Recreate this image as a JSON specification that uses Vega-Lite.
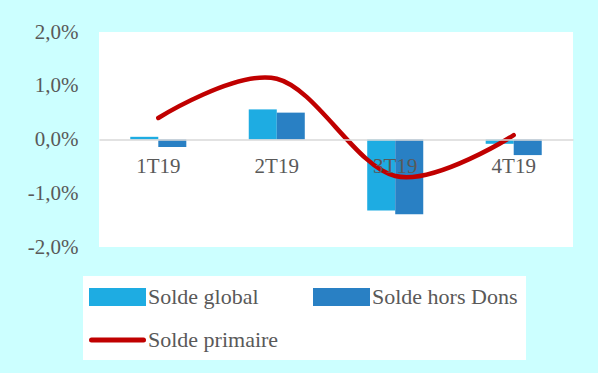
{
  "$schema": "https://vega.github.io/schema/vega-lite/v6.json",
  "width": 474,
  "height": 215,
  "autosize": {"type": "none"},
  "padding": {"left": 99, "top": 32, "right": 25, "bottom": 126},
  "background": "#ccffff",
  "config": {"view": {"fill": "white", "stroke": null}, "font": "Liberation Serif"},
  "data": {
    "values": [
      {"q": "1T19", "series": "Solde global", "v": 0.05},
      {"q": "1T19", "series": "Solde hors Dons", "v": -0.14},
      {"q": "1T19", "series": "Solde primaire", "v": 0.40},
      {"q": "2T19", "series": "Solde global", "v": 0.56},
      {"q": "2T19", "series": "Solde hors Dons", "v": 0.50},
      {"q": "2T19", "series": "Solde primaire", "v": 1.13},
      {"q": "3T19", "series": "Solde global", "v": -1.32},
      {"q": "3T19", "series": "Solde hors Dons", "v": -1.39},
      {"q": "3T19", "series": "Solde primaire", "v": -0.68},
      {"q": "4T19", "series": "Solde global", "v": -0.08},
      {"q": "4T19", "series": "Solde hors Dons", "v": -0.29},
      {"q": "4T19", "series": "Solde primaire", "v": 0.08}
    ]
  },
  "encoding": {
    "x": {
      "field": "q", "type": "nominal",
      "scale": {"paddingInner": 0.527, "paddingOuter": 0.264},
      "axis": {
        "title": null, "orient": "bottom", "offset": -107.5,
        "domainColor": "#d9d9d9", "domainWidth": 1.5, "ticks": false,
        "labelPadding": 16, "labelFontSize": 21, "labelColor": "#595959",
        "labelFont": "Liberation Serif", "labelAngle": 0, "zindex": 1
      }
    },
    "y": {
      "field": "v", "type": "quantitative",
      "scale": {"domain": [-2, 2], "nice": false},
      "axis": {
        "title": null, "domain": false, "ticks": false, "grid": false,
        "values": [-2, -1, 0, 1, 2],
        "labelExpr": "(datum.value < 0 ? '-' : '') + replace(format(abs(datum.value), '.1f'), '.', ',') + '%'",
        "labelPadding": 21, "labelFontSize": 21, "labelColor": "#595959",
        "labelFont": "Liberation Serif"
      }
    },
    "color": {
      "field": "series", "type": "nominal",
      "scale": {
        "domain": ["Solde global", "Solde hors Dons", "Solde primaire"],
        "range": ["#1eace2", "#2980c4", "#c00000"]
      },
      "legend": {
        "orient": "none", "legendX": -16, "legendY": 244,
        "columns": 2, "direction": "horizontal", "title": null,
        "fillColor": "white", "padding": 8.5,
        "columnPadding": 27, "rowPadding": 14,
        "labelFont": "Liberation Serif", "labelFontSize": 22, "labelColor": "#595959",
        "labelLimit": 300, "labelOffset": 18,
        "symbolSize": 400, "symbolType": "M-2.6,-0.65H2.6V0.65H-2.6Z",
        "symbolOffset": 13.5,
        "symbolStrokeWidth": 5,
        "encode": {
          "symbols": {
            "update": {
              "shape": {"signal": "datum.value === 'Solde primaire' ? 'M-2.6,0H2.6' : 'M-2.6,-0.65H2.6V0.65H-2.6Z'"},
              "fill": {"signal": "datum.value === 'Solde global' ? '#1eace2' : datum.value === 'Solde hors Dons' ? '#2980c4' : 'transparent'"},
              "stroke": {"signal": "datum.value === 'Solde primaire' ? '#c00000' : 'transparent'"},
              "strokeCap": {"value": "round"},
              "opacity": {"value": 1}
            }
          }
        }
      }
    }
  },
  "layer": [
    {
      "transform": [{"filter": "datum.series !== 'Solde primaire'"}],
      "mark": {"type": "bar"},
      "encoding": {
        "xOffset": {"field": "series", "type": "nominal", "sort": ["Solde global", "Solde hors Dons"], "scale": {"paddingInner": 0, "paddingOuter": 0}}
      }
    },
    {
      "transform": [{"filter": "datum.series === 'Solde primaire'"}],
      "mark": {"type": "line", "interpolate": "cardinal", "strokeWidth": 4.5, "strokeCap": "round"}
    }
  ]
}
